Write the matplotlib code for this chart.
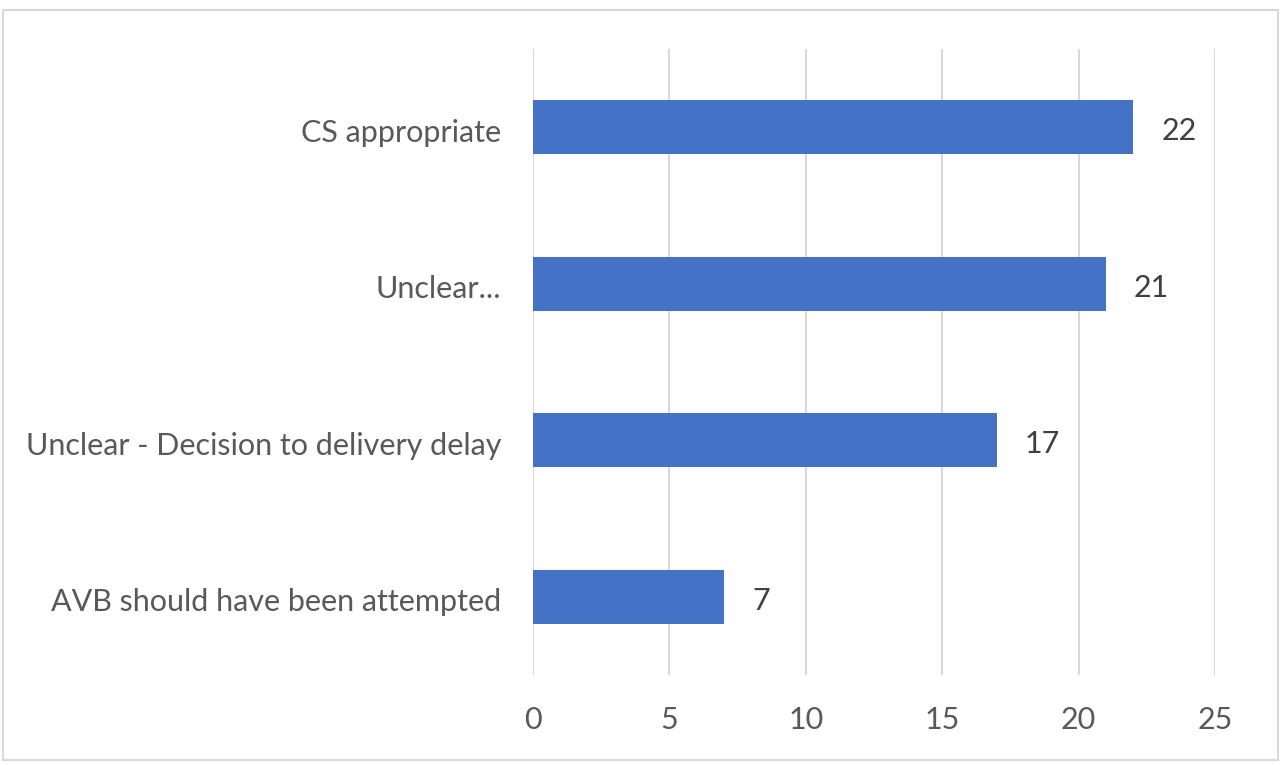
import matplotlib
matplotlib.use("Agg")
import matplotlib.pyplot as plt
import matplotlib.transforms as mtransforms
from matplotlib.patches import Rectangle

categories = ["AVB should have been attempted", "Unclear - Decision to delivery delay", "Unclear...", "CS appropriate"]
values = [7, 17, 21, 22]
xticks = [0, 5, 10, 15, 20, 25]

plt.rcParams['font.family'] = ['Lato', 'DejaVu Sans']
text_color = "#595959"

fig = plt.figure(figsize=(12.8, 7.65), dpi=100)
fig.patches.append(Rectangle((3/1280, 1 - 760/765), 1275/1280, 750/765, transform=fig.transFigure,
                             fill=False, edgecolor="#D9D9D9", linewidth=1.5))
ax = fig.add_axes([533/1280, 1 - 675/765, (1215 - 533)/1280, (675 - 49)/765])

y = list(range(len(categories)))
ax.barh(y, values, height=0.345, color="#4472C4", zorder=3)
ax.set_xlim(0, 25)
ax.set_ylim(-0.5, len(categories) - 0.5)
ax.set_xticks(xticks)
ax.set_xticklabels([str(t) for t in xticks])
ax.set_yticks(y)
ax.set_yticklabels(categories)
ax.grid(axis="x", color="#D9D9D9", linewidth=1.5, zorder=0)
for s in ax.spines.values():
    s.set_visible(False)
ax.tick_params(axis="both", length=0, labelsize=22, colors=text_color)
ax.tick_params(axis="y", pad=23)
ax.tick_params(axis="x", pad=22)
shift = mtransforms.ScaledTranslation(0, -3/100, fig.dpi_scale_trans)
for lbl in ax.get_yticklabels():
    lbl.set_transform(lbl.get_transform() + shift)
for v, yy in zip(values, y):
    ax.annotate(str(v), (v, yy), xytext=(28, -4), textcoords="offset pixels",
                ha="left", va="center", fontsize=22, color="#404040")

fig.savefig("out.png", dpi=100)
